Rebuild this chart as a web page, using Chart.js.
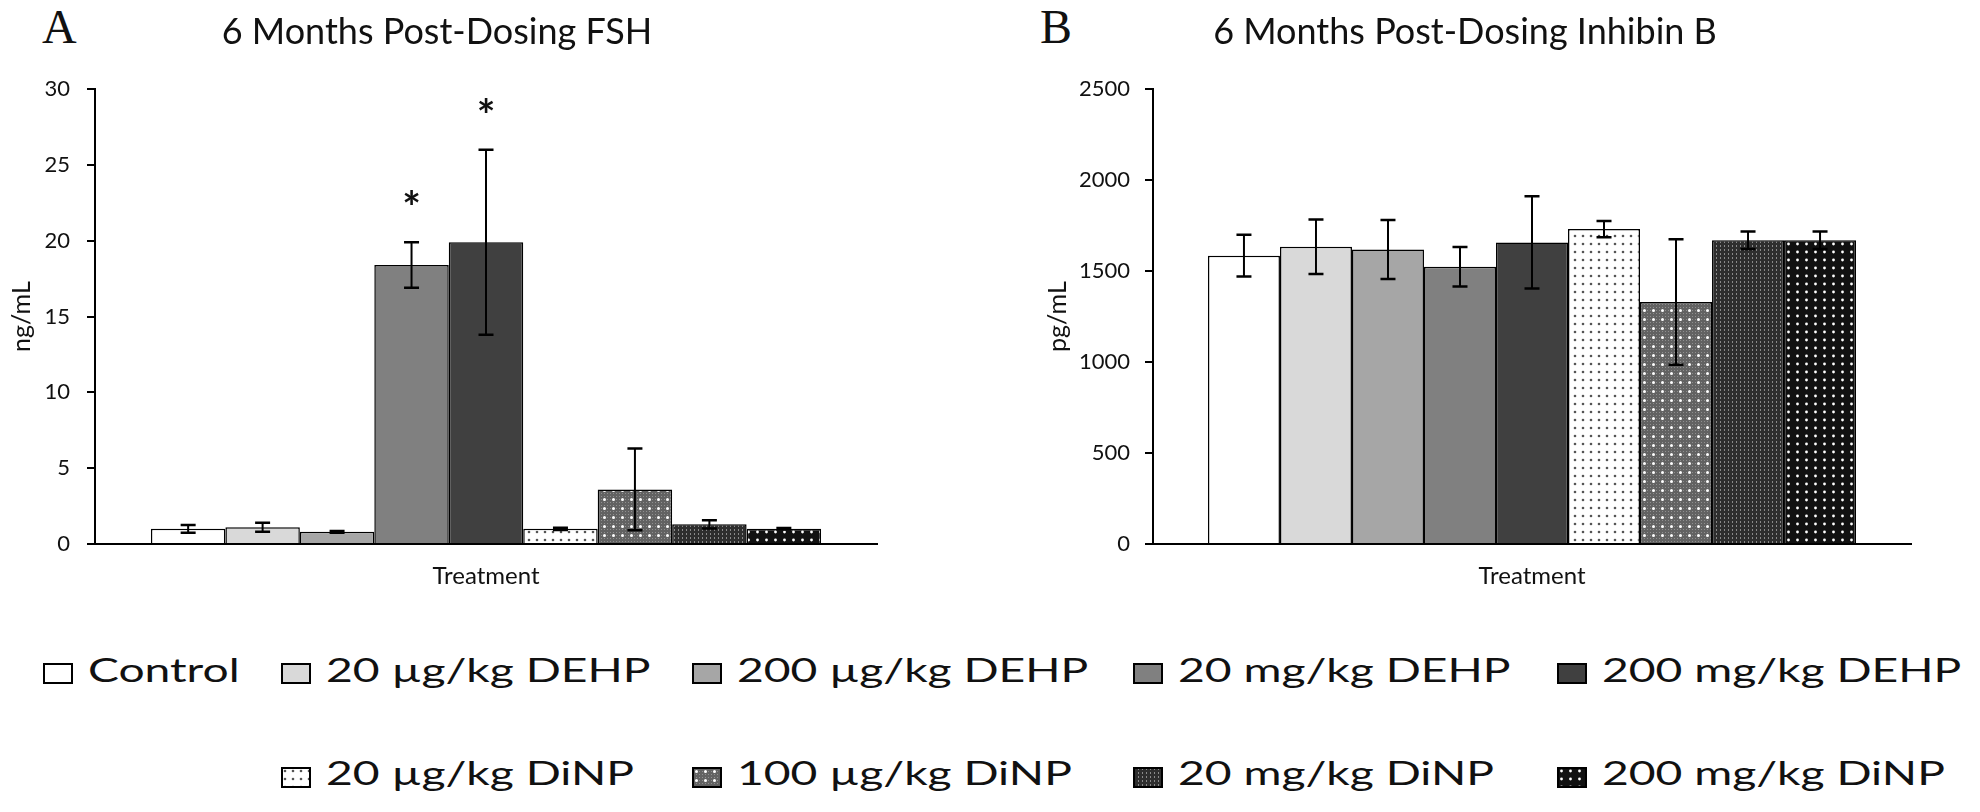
<!DOCTYPE html>
<html>
<head>
<meta charset="utf-8">
<script src="https://cdn.jsdelivr.net/npm/chart.js@4.4.1/dist/chart.umd.min.js"></script>
<style>
  html, body { margin:0; padding:0; background:#fff; width:1980px; height:812px; overflow:hidden; position:relative; font-family:Lato, sans-serif; }
  canvas.chart { position:absolute; top:0; }
  .panel { position:absolute; font-family:"Liberation Serif", "DejaVu Serif", serif; font-size:48px; line-height:48px; color:#111; }
  .sw { position:absolute; }
  .lt { position:absolute; font-family:Lato, sans-serif; font-size:33px; line-height:33px; color:#111; white-space:nowrap; transform-origin:0 0; transform:scaleX(1.4); }
</style>
</head>
<body>
<div class="panel" style="left:42px;top:3px;">A</div>
<div class="panel" style="left:1040px;top:3px;">B</div>
<canvas id="fsh" class="chart" width="900" height="620" style="left:-3px;width:900px;height:620px;"></canvas>
<canvas id="inh" class="chart" width="912" height="620" style="left:1019px;width:912px;height:620px;"></canvas>
<div id="legend"></div>
<script>
// ---------------- data ----------------
const categories = ['Treatment'];
const groups = ['Control', '20 µg/kg DEHP', '200 µg/kg DEHP', '20 mg/kg DEHP', '200 mg/kg DEHP',
                '20 µg/kg DiNP', '100 µg/kg DiNP', '20 mg/kg DiNP', '200 mg/kg DiNP'];
const fshMean = [1.0, 1.1, 0.8, 18.4, 19.9, 1.0, 3.6, 1.3, 1.0];
const fshErr  = [0.25, 0.3, 0.05, 1.5, 6.1, 0.08, 2.7, 0.27, 0.05];
const fshSignificant = [false, false, false, true, true, false, false, false, false];
const inhibinMean = [1585, 1634, 1619, 1524, 1658, 1731, 1330, 1670, 1670];
const inhibinErr  = [115, 150, 162, 108, 253, 45, 345, 48, 48];
const fshTicks = [0, 5, 10, 15, 20, 25, 30];
const inhibinTicks = [0, 500, 1000, 1500, 2000, 2500];

// ---------------- styles ----------------
const solidFills = ['#ffffff', '#d9d9d9', '#a6a6a6', '#808080', '#404040', null, null, null, null];
function makeTile(w, h, draw) {
  const c = document.createElement('canvas'); c.width = w; c.height = h;
  draw(c.getContext('2d'), w, h); return c;
}
function dot(g, x, y, r) { g.beginPath(); g.arc(x, y, r, 0, Math.PI * 2); g.fill(); }
const tiles = [null, null, null, null, null,
  makeTile(8, 8, (g) => { g.fillStyle = '#fff'; g.fillRect(0, 0, 8, 8); g.fillStyle = '#555'; dot(g, 4, 4, 1.3); }),
  makeTile(9, 9, (g) => { g.fillStyle = '#626262'; g.fillRect(0, 0, 9, 9); g.fillStyle = '#8f8f8f';
    for (const x of [1, 4, 7]) for (const y of [1, 4, 7]) g.fillRect(x, y, 1, 1);
    g.fillStyle = '#fff'; dot(g, 4.5, 4.5, 1.5); }),
  makeTile(4, 4, (g) => { g.fillStyle = '#2e2e2e'; g.fillRect(0, 0, 4, 4); g.fillStyle = '#8a8a8a'; g.fillRect(1, 1, 1, 2); }),
  makeTile(9, 8, (g) => { g.fillStyle = '#111'; g.fillRect(0, 0, 9, 8); g.fillStyle = '#fff'; dot(g, 4.5, 4, 1.4); })
];
function fillFor(ctx, i) { return solidFills[i] || ctx.createPattern(tiles[i], 'repeat'); }

// ---------------- plugins ----------------
const errorBars = {
  id: 'errorBars',
  afterDatasetsDraw(chart) {
    const { ctx } = chart; const ys = chart.scales.y;
    chart.data.datasets.forEach((ds, i) => {
      const meta = chart.getDatasetMeta(i);
      meta.data.forEach((bar, j) => {
        const v = ds.data[j], e = ds.errors[j];
        const yt = ys.getPixelForValue(v + e), yb = ys.getPixelForValue(Math.max(0, v - e));
        ctx.save();
        ctx.strokeStyle = '#000';
        ctx.lineWidth = 2;
        ctx.beginPath(); ctx.moveTo(bar.x, yt); ctx.lineTo(bar.x, yb); ctx.stroke();
        ctx.lineWidth = 2.5;
        ctx.beginPath();
        ctx.moveTo(bar.x - 7.5, yt); ctx.lineTo(bar.x + 7.5, yt);
        ctx.moveTo(bar.x - 7.5, yb); ctx.lineTo(bar.x + 7.5, yb);
        ctx.stroke();
        if (ds.significant && ds.significant[j]) {
          ctx.fillStyle = '#111';
          ctx.font = 'bold 44px Lato';
          ctx.textAlign = 'center';
          ctx.textBaseline = 'alphabetic';
          ctx.fillText('*', bar.x, yt - 44 + 25);
        }
        ctx.restore();
      });
    });
  }
};

function buildChart(id, cfg) {
  const canvas = document.getElementById(id);
  const ctx = canvas.getContext('2d');
  const datasets = groups.map((g, i) => ({
    label: g,
    data: [cfg.mean[i]],
    errors: [cfg.err[i]],
    significant: cfg.significant ? [cfg.significant[i]] : null,
    backgroundColor: fillFor(ctx, i),
    borderColor: '#000',
    borderWidth: 1.5,
    categoryPercentage: cfg.catPct,
    barPercentage: 1.0
  }));
  const tickFont = { family: 'Lato', size: 22 };
  return new Chart(ctx, {
    type: 'bar',
    data: { labels: categories, datasets },
    plugins: [errorBars],
    options: {
      responsive: false,
      animation: false,
      layout: { padding: { left: 0, right: 20, top: 0, bottom: 0 } },
      plugins: {
        legend: { display: false },
        tooltip: { enabled: false },
        title: { display: true, text: cfg.title, color: '#111',
                 font: { family: 'Lato', size: 36, weight: 'normal' },
                 padding: { top: 11, bottom: 35 } }
      },
      scales: {
        x: {
          grid: { display: false, drawTicks: false },
          border: { display: true, color: '#000', width: 2 },
          ticks: { font: { family: 'Lato', size: 24 }, color: '#111', padding: 18 },
          afterFit: (s) => { s.height = 76; }
        },
        y: {
          min: cfg.ticks[0], max: cfg.ticks[cfg.ticks.length - 1],
          afterBuildTicks: (s) => { s.ticks = cfg.ticks.map(v => ({ value: v })); },
          grid: { display: true, drawOnChartArea: false, drawTicks: true, tickLength: 8, color: '#000', lineWidth: 2 },
          border: { display: true, color: '#000', width: 2 },
          ticks: { font: tickFont, color: '#111', padding: cfg.tickPad, callback: (v) => String(v) },
          title: { display: true, text: cfg.yTitle, color: '#111', font: { family: 'Lato', size: 25 },
                   padding: { top: cfg.yTitlePad, bottom: 0 } },
          afterFit: (s) => { s.width = cfg.yWidth; }
        }
      }
    }
  });
}

buildChart('fsh', { title: '6 Months Post-Dosing FSH', yTitle: 'ng/mL', mean: fshMean, err: fshErr,
  significant: fshSignificant, ticks: fshTicks, catPct: 0.857, yWidth: 98, tickPad: 17, yTitlePad: 10 });
buildChart('inh', { title: '6 Months Post-Dosing Inhibin B', yTitle: 'pg/mL', mean: inhibinMean, err: inhibinErr,
  significant: null, ticks: inhibinTicks, catPct: 0.855, yWidth: 134, tickPad: 15, yTitlePad: 24 });

// ---------------- legend ----------------
const legendCols = [43, 281, 692, 1133, 1557];
const legendRows = [{ sw: 663, text: 652.7 }, { sw: 767, text: 755.7 }];
const legendEl = document.getElementById('legend');
groups.forEach((g, i) => {
  const row = i < 5 ? 0 : 1;
  const col = i < 5 ? i : i - 4;
  const x = legendCols[col];
  const sw = document.createElement('canvas');
  sw.className = 'sw'; sw.width = 30; sw.height = 21;
  sw.style.left = x + 'px'; sw.style.top = legendRows[row].sw + 'px';
  const c = sw.getContext('2d');
  c.fillStyle = fillFor(c, i); c.fillRect(0, 0, 30, 21);
  c.strokeStyle = '#000'; c.lineWidth = 2; c.strokeRect(1, 1, 28, 19);
  legendEl.appendChild(sw);
  const t = document.createElement('div');
  t.className = 'lt'; t.textContent = g;
  t.style.left = (x + 45) + 'px'; t.style.top = legendRows[row].text + 'px';
  legendEl.appendChild(t);
});
</script>
</body>
</html>
